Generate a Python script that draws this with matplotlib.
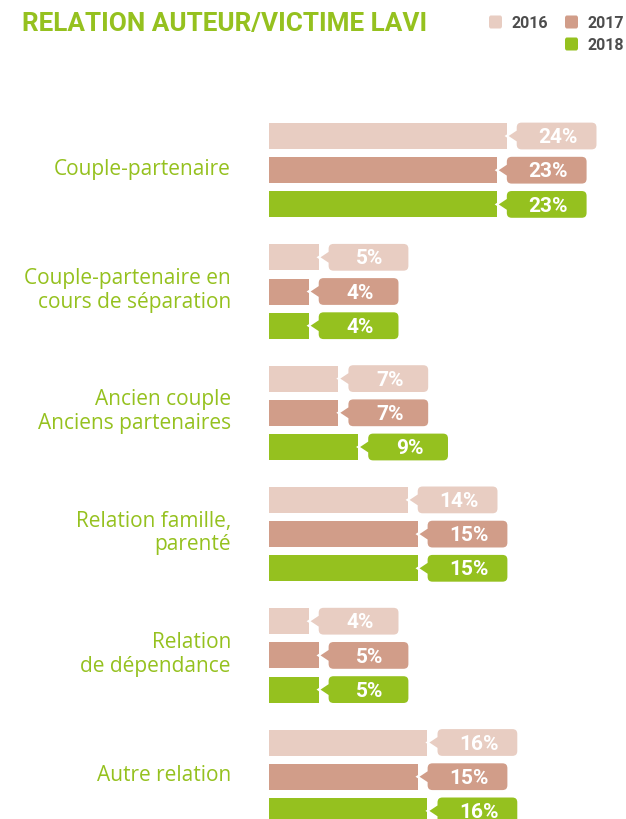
import matplotlib
matplotlib.use("Agg")
import matplotlib.pyplot as plt
import matplotlib.transforms as mtransforms
from matplotlib.path import Path
from matplotlib.patches import PathPatch, FancyBboxPatch
import numpy as np

# ---- data ----
categories = ["Couple-partenaire",
              "Couple-partenaire en\ncours de séparation",
              "Ancien couple\nAnciens partenaires",
              "Relation famille,\nparenté",
              "Relation\nde dépendance",
              "Autre relation"]
years = ["2016", "2017", "2018"]
values_2016 = [24, 5, 7, 14, 4, 16]
values_2017 = [23, 4, 7, 15, 5, 15]
values_2018 = [23, 4, 9, 15, 5, 16]
series = [values_2016, values_2017, values_2018]
colors = ["#E8CDC2", "#D19D89", "#95C11F"]
title = "RELATION AUTEUR/VICTIME LAVI"

GREEN = "#95C11F"
FONT = ["Roboto", "DejaVu Sans"]
LABEL_FONT = ["Open Sans", "DejaVu Sans"]
plt.rcParams["font.family"] = FONT

W, H = 626, 820
DPI = 100
fig = plt.figure(figsize=(W / DPI, H / DPI), dpi=DPI)

# axes placement in pixels
ax_left, ax_right = 269, 626
ax_top, ax_bot = 100, 820
ax = fig.add_axes([ax_left / W, 1 - ax_bot / H, (ax_right - ax_left) / W, (ax_bot - ax_top) / H])
px_per_pct = 9.9
ax.set_xlim(0, (ax_right - ax_left) / px_per_pct)
row_px = 34.2
first_center = 137
ax.set_ylim((ax_bot - first_center) / row_px, (ax_top - first_center) / row_px)
ax.axis("off")

group_step = 121.3 / row_px
bar_h = 26 / row_px

# bubble path in pixel units (y up), tip at origin
w0, w1, hh, r, p = 9, 91, 14.5, 6, 6
verts = [(w0, -p), (0, 0), (w0, p), (w0, hh - r), (w0, hh), (w0 + r, hh),
         (w1 - r, hh), (w1, hh), (w1, hh - r), (w1, -hh + r), (w1, -hh), (w1 - r, -hh),
         (w0 + r, -hh), (w0, -hh), (w0, -hh + r), (w0, -p)]
codes = [Path.MOVETO, Path.LINETO, Path.LINETO, Path.LINETO, Path.CURVE3, Path.CURVE3,
         Path.LINETO, Path.CURVE3, Path.CURVE3, Path.LINETO, Path.CURVE3, Path.CURVE3,
         Path.LINETO, Path.CURVE3, Path.CURVE3, Path.CLOSEPOLY]
bubble = Path(verts, codes)
scale = mtransforms.Affine2D().scale(fig.dpi / 100.0)

for gi, cat in enumerate(categories):
    gc = gi * group_step
    for si, vals in enumerate(series):
        y = gc + si
        v = vals[gi]
        ax.barh(y, v, height=bar_h, color=colors[si], linewidth=0)
        tr = scale + mtransforms.ScaledTranslation(v, y, ax.transData)
        patch = PathPatch(bubble, facecolor=colors[si], edgecolor="white", lw=1.6,
                          transform=tr, zorder=3)
        ax.add_patch(patch)
        ax.annotate(f"{v}%", xy=(v, y), xytext=((w0 + w1) / 2 * 0.72 + 1, -0.5),
                    textcoords="offset points", ha="center", va="center",
                    color="white", fontsize=15, fontweight="bold", zorder=4)
    # category label
    ax.annotate(cat, xy=(0, gc + 1), xytext=(-38 * 0.72, 1.5), textcoords="offset points",
                ha="right", va="center", color=GREEN, fontsize=15, family=LABEL_FONT,
                linespacing=1.17, annotation_clip=False)

# title
fig.text(22 / W, 1 - 24 / H, title, ha="left", va="center", color=GREEN,
         fontsize=18.8, fontweight="bold", family=FONT)

# legend
leg_items = [(0, 488, 23), (1, 564, 23), (2, 564, 45)]
for si, x0, yc in leg_items:
    sq = FancyBboxPatch(((x0 + 1) / W, 1 - (yc + 6.5) / H), 13 / W, 13 / H,
                        boxstyle="round,pad=0,rounding_size=0.003",
                        transform=fig.transFigure, facecolor=colors[si], edgecolor="none")
    fig.patches.append(sq)
    fig.text((x0 + 24) / W, 1 - yc / H, years[si], ha="left", va="center",
             color="#4D4D4D", fontsize=11.5, fontweight="bold")

fig.savefig("out.png", dpi=DPI)
